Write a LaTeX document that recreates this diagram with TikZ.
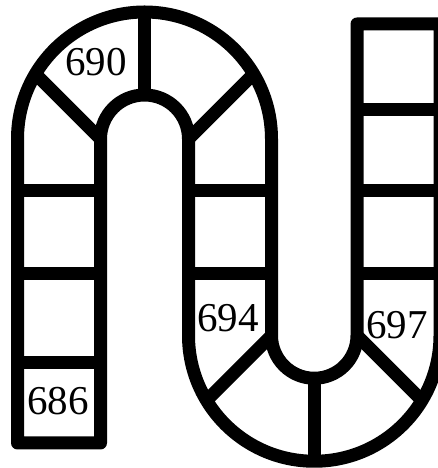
\documentclass[tikz,border=0pt]{standalone}
\usepackage{fontspec}
\setmainfont{Liberation Serif}
\begin{document}
\begin{tikzpicture}[x=1pt,y=1pt,
  track/.style={draw=black,line width=13pt,line join=round},
  num/.style={inner sep=0pt,font=\fontsize{41}{41}\selectfont}]
\useasboundingbox (0,0) rectangle (437,468);
% outline
\path[track] (100.5,25) -- (17.5,25) -- (17.5,329)
  arc[start angle=180,end angle=0,radius=127] -- (271.5,132.5)
  arc[start angle=180,end angle=360,radius=42.75] -- (357,444) -- (440,444) -- (440,132.5)
  arc[start angle=0,end angle=-180,radius=125.75] -- (188.5,329)
  arc[start angle=0,end angle=180,radius=44] -- cycle;
% left column dividers
\foreach \y in {105,194,277} \path[track] (17.5,\y) -- (100.5,\y);
% middle column dividers
\foreach \y in {194,277} \path[track] (188.5,\y) -- (271.5,\y);
% right column dividers
\foreach \y in {194,277,358} \path[track] (357,\y) -- (440,\y);
% top arch dividers
\path[track] (144.5,373) -- (144.5,456);
\path[track] (100.5,329) -- ++(135:92.5);
\path[track] (188.5,329) -- ++(45:92.5);
% bottom arch dividers
\path[track] (314.25,89.75) -- (314.25,6.75);
\path[track] (271.5,132.5) -- ++(225:91.6);
\path[track] (357,132.5) -- ++(-45:91.6);
% labels
\node[num] (n690) at (96,406) {690};
\node[num] (n686) at (58,67) {686};
\node[num] (n694) at (228,150) {694};
\node[num] (n697) at (397,143) {697};
\end{tikzpicture}
\end{document}
